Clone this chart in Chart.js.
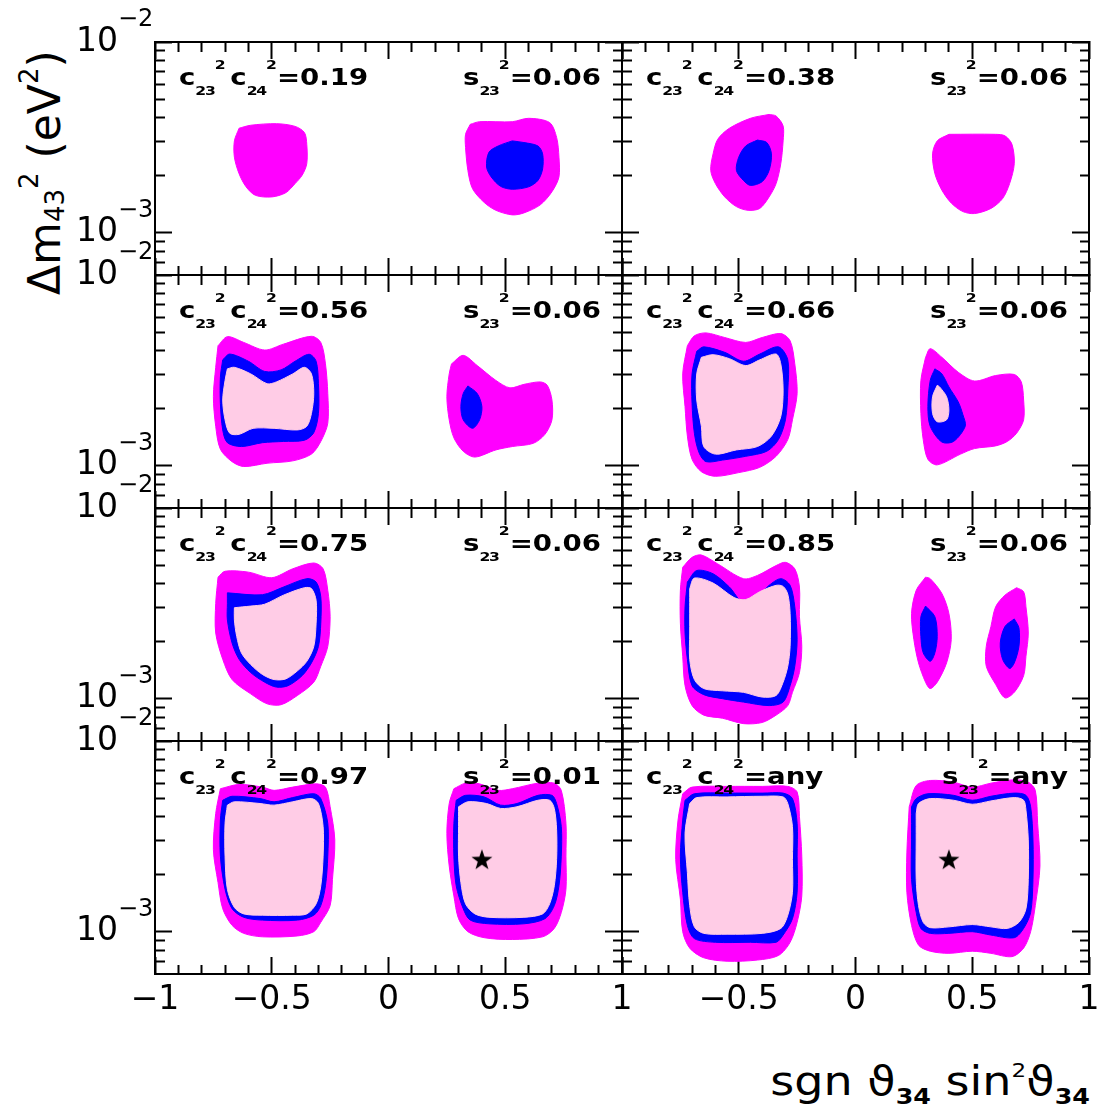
<!DOCTYPE html>
<html>
<head>
<meta charset="utf-8">
<title>Allowed regions in the sgn(theta34) sin^2(theta34) - dm43^2 plane</title>
<script src="https://cdn.jsdelivr.net/npm/chart.js@4.4.1/dist/chart.umd.min.js"></script>
<style>
  html, body { margin: 0; padding: 0; background: #fff; }
  body { width: 1099px; height: 1112px; position: relative; overflow: hidden; font-family: 'DejaVu Sans', sans-serif; color: #000; }
  canvas { position: absolute; }
  .note { position: absolute; font-size: 23px; font-weight: bold; line-height: 23px; white-space: nowrap; transform: scaleX(1.2); }
  .note.left { transform-origin: left top; }
  .note.right { transform-origin: right top; }
  .note .sb, .note .sp { font-size: 13px; position: relative; }
  .note .sb { top: 10px; letter-spacing: -1px; }
  .note .sp { top: -16px; }
  .note .gap { margin-left: 4px; }
  .xtitle { position: absolute; right: 9px; top: 1061px; font-size: 40px; line-height: 40px; white-space: nowrap;
            transform-origin: right top; transform: scaleX(1.15); }
  .xtitle .sb { font-size: 22px; font-weight: bold; position: relative; top: 9px; }
  .xtitle .sp { font-size: 20px; position: relative; top: -18px; }
  .ytitle { position: absolute; left: 23px; top: 295px; font-size: 44px; line-height: 44px; white-space: nowrap;
            transform-origin: 0 0; transform: rotate(-90deg); }
  .ytitle .sb { font-size: 26px; position: relative; top: 4px; }
  .ytitle .sp { font-size: 26px; position: relative; top: -22px; }
</style>
</head>
<body>
<div class="ytitle">&Delta;m<span class="sb">43</span><span class="sp">2</span> (eV<span class="sp">2</span>)</div>
<div class="xtitle">sgn &#977;<span class="sb">34</span> sin<span class="sp">2</span>&#977;<span class="sb">34</span></div>
<script>
// axes
const X_MIN = -1, X_MAX = 1;
const Y_MIN = 6.2e-4, Y_MAX = 1e-2;
const X_TICKS = [-1, -0.9, -0.8, -0.7, -0.6, -0.5, -0.4, -0.3, -0.2, -0.1, 0, 0.1, 0.2, 0.3, 0.4, 0.5, 0.6, 0.7, 0.8, 0.9, 1];
const X_MAJOR = [-1, -0.5, 0, 0.5, 1];
const X_LABELS = ['\u22121', '\u22120.5', '0', '0.5', '1'];
const Y_TICKS = [7e-4, 8e-4, 9e-4, 1e-3, 2e-3, 3e-3, 4e-3, 5e-3, 6e-3, 7e-3, 8e-3, 9e-3, 1e-2];
const Y_MAJOR = [1e-3, 1e-2];
const Y_BASE = ['10', '10'];
const Y_EXP = ['\u22123', '\u22122'];

// panel captions
const PANEL_C = ['0.19', '0.38', '0.56', '0.66', '0.75', '0.85', '0.97', 'any'];
const PANEL_S = ['0.06', '0.06', '0.06', '0.06', '0.06', '0.06', '0.01', 'any'];

// contour levels: outer, middle, inner
const LEVEL_COLORS = ['#ff00ff', '#0000ff', '#ffcce6'];

// contours: [sgn sin^2 theta34, dm43^2 in 1e-3 eV^2]
const P019_L_OUT = [[-0.64,3.53],[-0.59,3.66],[-0.48,3.73],[-0.40,3.61],[-0.36,3.35],[-0.35,2.91],[-0.35,2.30],[-0.37,2.00],[-0.40,1.81],[-0.44,1.62],[-0.50,1.54],[-0.57,1.57],[-0.61,1.74],[-0.64,2.04],[-0.66,2.49],[-0.66,3.03]];
const P019_R_OUT = [[0.35,3.70],[0.39,3.82],[0.53,3.82],[0.60,3.98],[0.69,3.78],[0.72,3.16],[0.73,2.49],[0.73,1.96],[0.70,1.64],[0.65,1.40],[0.58,1.27],[0.53,1.24],[0.46,1.31],[0.41,1.44],[0.36,1.70],[0.34,2.12],[0.33,2.80],[0.33,3.28]];
const P019_R_MID = [[0.53,3.03],[0.47,2.85],[0.43,2.64],[0.42,2.21],[0.44,1.96],[0.48,1.75],[0.53,1.69],[0.60,1.74],[0.64,1.88],[0.66,2.16],[0.66,2.59],[0.64,2.85],[0.58,2.97]];

const P038_L_OUT = [[-0.37,4.17],[-0.45,3.98],[-0.54,3.53],[-0.59,3.09],[-0.61,2.59],[-0.62,2.12],[-0.60,1.81],[-0.56,1.54],[-0.51,1.37],[-0.46,1.31],[-0.41,1.34],[-0.37,1.54],[-0.34,1.81],[-0.32,2.30],[-0.31,3.03],[-0.31,3.63],[-0.34,4.09]];
const P038_L_MID = [[-0.42,3.06],[-0.47,2.85],[-0.50,2.49],[-0.51,2.12],[-0.48,1.88],[-0.45,1.77],[-0.40,1.85],[-0.37,2.12],[-0.36,2.59],[-0.38,2.97]];
const P038_R_OUT = [[0.40,3.28],[0.60,3.28],[0.64,3.22],[0.67,2.91],[0.68,2.30],[0.66,1.81],[0.63,1.51],[0.58,1.34],[0.51,1.26],[0.46,1.29],[0.41,1.43],[0.37,1.67],[0.34,2.04],[0.33,2.59],[0.35,3.03]];

const P056_L_OUT = [[-0.73,4.26],[-0.69,4.75],[-0.62,4.43],[-0.53,4.04],[-0.45,4.34],[-0.33,4.77],[-0.29,4.43],[-0.27,3.42],[-0.26,2.39],[-0.26,1.67],[-0.29,1.34],[-0.33,1.15],[-0.41,1.06],[-0.52,1.03],[-0.62,0.99],[-0.67,1.05],[-0.72,1.22],[-0.74,1.61],[-0.75,2.30],[-0.74,3.28]];
const P056_L_MID = [[-0.71,3.59],[-0.68,3.85],[-0.60,3.53],[-0.53,3.12],[-0.46,3.18],[-0.40,3.53],[-0.34,3.84],[-0.31,3.53],[-0.30,2.69],[-0.30,1.88],[-0.32,1.49],[-0.36,1.36],[-0.45,1.34],[-0.54,1.32],[-0.63,1.26],[-0.69,1.32],[-0.71,1.54],[-0.72,2.12],[-0.72,2.91]];
const P056_L_IN = [[-0.69,3.22],[-0.66,3.28],[-0.59,3.03],[-0.52,2.69],[-0.48,2.75],[-0.41,3.03],[-0.36,3.28],[-0.33,3.03],[-0.32,2.39],[-0.33,1.88],[-0.35,1.61],[-0.39,1.54],[-0.49,1.57],[-0.58,1.57],[-0.64,1.46],[-0.68,1.48],[-0.70,1.74],[-0.71,2.21],[-0.70,2.80]];
const P056_R_OUT = [[0.27,3.42],[0.32,3.79],[0.38,3.35],[0.46,2.80],[0.52,2.56],[0.58,2.67],[0.65,2.75],[0.68,2.64],[0.70,2.21],[0.70,1.74],[0.67,1.46],[0.62,1.31],[0.53,1.26],[0.46,1.21],[0.37,1.11],[0.32,1.19],[0.28,1.40],[0.26,1.74],[0.25,2.30],[0.26,3.03]];
const P056_R_MID = [[0.34,2.62],[0.32,2.39],[0.31,2.04],[0.32,1.74],[0.36,1.57],[0.39,1.74],[0.40,2.04],[0.38,2.39]];

const P066_L_OUT = [[-0.72,4.26],[-0.69,4.80],[-0.64,4.97],[-0.56,4.70],[-0.47,4.43],[-0.40,4.70],[-0.32,4.93],[-0.28,4.52],[-0.26,3.42],[-0.25,2.39],[-0.27,1.74],[-0.29,1.37],[-0.34,1.12],[-0.41,0.98],[-0.50,0.92],[-0.60,0.88],[-0.66,0.93],[-0.70,1.08],[-0.72,1.43],[-0.73,2.04],[-0.74,3.03]];
const P066_L_MID = [[-0.68,3.98],[-0.65,4.20],[-0.56,3.93],[-0.48,3.53],[-0.41,3.85],[-0.33,4.20],[-0.29,3.59],[-0.29,2.49],[-0.30,1.74],[-0.33,1.37],[-0.38,1.19],[-0.47,1.12],[-0.57,1.07],[-0.64,1.05],[-0.67,1.17],[-0.69,1.48],[-0.70,2.12],[-0.70,3.03]];
const P066_L_IN = [[-0.66,3.70],[-0.61,3.82],[-0.54,3.64],[-0.47,3.35],[-0.41,3.59],[-0.34,3.85],[-0.32,3.42],[-0.31,2.49],[-0.32,1.81],[-0.36,1.43],[-0.42,1.26],[-0.51,1.21],[-0.60,1.15],[-0.65,1.26],[-0.66,1.61],[-0.68,2.21],[-0.68,3.03]];
const P066_R_OUT = [[0.30,3.70],[0.32,4.11],[0.37,3.70],[0.44,3.09],[0.51,2.78],[0.60,2.97],[0.68,3.01],[0.71,2.75],[0.72,2.21],[0.72,1.74],[0.69,1.48],[0.65,1.34],[0.60,1.27],[0.51,1.23],[0.45,1.15],[0.35,1.01],[0.31,1.08],[0.29,1.37],[0.28,1.88],[0.28,2.80]];
const P066_R_MID = [[0.34,3.22],[0.32,2.80],[0.31,2.04],[0.32,1.61],[0.37,1.33],[0.42,1.34],[0.47,1.61],[0.46,1.85],[0.44,2.16],[0.40,2.59],[0.37,3.03]];
const P066_R_IN = [[0.35,2.64],[0.33,2.30],[0.33,1.88],[0.35,1.70],[0.39,1.74],[0.40,1.96],[0.39,2.30],[0.36,2.59]];

const P075_L_OUT = [[-0.73,4.34],[-0.70,4.66],[-0.60,4.61],[-0.50,4.31],[-0.41,4.80],[-0.32,5.15],[-0.28,4.80],[-0.26,3.70],[-0.25,2.69],[-0.26,1.88],[-0.29,1.48],[-0.32,1.22],[-0.39,1.04],[-0.46,0.93],[-0.52,0.94],[-0.59,1.06],[-0.67,1.26],[-0.71,1.61],[-0.74,2.21],[-0.74,3.16]];
const P075_L_MID = [[-0.69,3.59],[-0.54,3.51],[-0.45,3.85],[-0.35,4.26],[-0.31,4.09],[-0.29,3.42],[-0.29,2.49],[-0.30,1.88],[-0.33,1.54],[-0.37,1.32],[-0.43,1.17],[-0.48,1.15],[-0.53,1.22],[-0.59,1.37],[-0.64,1.61],[-0.67,1.96],[-0.69,2.59],[-0.69,3.16]];
const P075_L_IN = [[-0.66,3.00],[-0.59,3.06],[-0.53,3.13],[-0.45,3.49],[-0.36,3.82],[-0.33,3.78],[-0.31,3.28],[-0.31,2.49],[-0.32,1.88],[-0.35,1.57],[-0.39,1.40],[-0.44,1.27],[-0.49,1.26],[-0.54,1.34],[-0.59,1.51],[-0.63,1.74],[-0.65,2.12],[-0.66,2.59]];

const P085_L_OUT = [[-0.74,4.89],[-0.70,5.51],[-0.66,5.67],[-0.59,5.09],[-0.48,4.26],[-0.42,4.43],[-0.34,4.99],[-0.30,5.19],[-0.26,4.80],[-0.24,3.85],[-0.24,2.69],[-0.23,1.88],[-0.24,1.37],[-0.27,1.08],[-0.29,0.92],[-0.34,0.82],[-0.40,0.75],[-0.48,0.74],[-0.57,0.79],[-0.65,0.82],[-0.70,0.92],[-0.73,1.17],[-0.74,1.67],[-0.75,2.49],[-0.75,3.70]];
const P085_L_MID = [[-0.72,4.09],[-0.68,4.70],[-0.61,4.52],[-0.54,3.85],[-0.48,3.18],[-0.42,3.42],[-0.37,3.93],[-0.32,4.26],[-0.28,3.93],[-0.26,3.03],[-0.25,2.04],[-0.26,1.48],[-0.28,1.17],[-0.31,0.96],[-0.37,0.92],[-0.48,0.96],[-0.57,1.00],[-0.65,1.05],[-0.70,1.17],[-0.72,1.61],[-0.73,2.21],[-0.73,3.03]];
const P085_L_IN = [[-0.71,3.78],[-0.69,4.29],[-0.61,4.04],[-0.52,3.39],[-0.47,3.31],[-0.41,3.64],[-0.34,3.93],[-0.31,3.88],[-0.29,3.53],[-0.28,2.80],[-0.28,1.88],[-0.29,1.48],[-0.31,1.22],[-0.34,1.04],[-0.40,1.02],[-0.48,1.08],[-0.57,1.10],[-0.65,1.13],[-0.69,1.26],[-0.71,1.61],[-0.71,2.21],[-0.71,3.03]];
const P085_M_OUT = [[0.30,4.34],[0.26,3.70],[0.24,2.80],[0.25,2.04],[0.27,1.54],[0.30,1.22],[0.32,1.13],[0.35,1.22],[0.39,1.54],[0.41,2.04],[0.40,2.80],[0.37,3.56],[0.32,4.26]];
const P085_M_MID = [[0.30,3.06],[0.28,2.69],[0.28,2.12],[0.29,1.74],[0.32,1.57],[0.34,1.74],[0.35,2.12],[0.34,2.69]];
const P085_R_OUT = [[0.69,3.82],[0.64,3.49],[0.60,3.03],[0.58,2.39],[0.56,1.88],[0.56,1.48],[0.60,1.19],[0.64,1.01],[0.68,1.08],[0.72,1.32],[0.73,1.67],[0.74,2.21],[0.73,3.03],[0.72,3.64]];
const P085_R_MID = [[0.68,2.62],[0.64,2.39],[0.62,1.96],[0.63,1.61],[0.66,1.44],[0.68,1.54],[0.70,1.88],[0.70,2.35]];

const P097_L_OUT = [[-0.72,5.62],[-0.64,5.92],[-0.54,5.73],[-0.49,5.51],[-0.41,5.73],[-0.31,5.96],[-0.27,5.73],[-0.25,4.52],[-0.23,3.03],[-0.24,1.88],[-0.25,1.37],[-0.29,1.12],[-0.32,1.00],[-0.39,0.95],[-0.54,0.94],[-0.62,0.98],[-0.67,1.08],[-0.71,1.32],[-0.73,1.81],[-0.75,2.69],[-0.74,4.17]];
const P097_L_MID = [[-0.71,4.89],[-0.67,5.13],[-0.55,4.99],[-0.49,4.80],[-0.41,5.05],[-0.32,5.29],[-0.29,4.99],[-0.26,3.70],[-0.26,2.49],[-0.27,1.74],[-0.29,1.37],[-0.32,1.22],[-0.39,1.15],[-0.54,1.15],[-0.62,1.19],[-0.67,1.32],[-0.70,1.67],[-0.72,2.49],[-0.72,3.85]];
const P097_L_IN = [[-0.69,4.61],[-0.66,4.80],[-0.55,4.70],[-0.49,4.61],[-0.41,4.80],[-0.33,4.99],[-0.30,4.70],[-0.28,3.56],[-0.28,2.49],[-0.29,1.74],[-0.31,1.40],[-0.35,1.24],[-0.41,1.22],[-0.54,1.22],[-0.62,1.24],[-0.66,1.34],[-0.69,1.67],[-0.70,2.49],[-0.70,3.70]];
const P097_R_OUT = [[0.28,5.62],[0.33,6.01],[0.39,5.96],[0.47,5.51],[0.53,5.62],[0.64,6.01],[0.71,6.01],[0.74,5.51],[0.76,3.70],[0.76,2.49],[0.76,1.67],[0.74,1.26],[0.71,1.04],[0.66,0.94],[0.53,0.91],[0.41,0.93],[0.34,1.00],[0.30,1.17],[0.28,1.54],[0.26,2.21],[0.25,3.28],[0.26,4.70]];
const P097_R_MID = [[0.29,4.89],[0.33,5.19],[0.41,5.09],[0.48,4.61],[0.55,4.70],[0.64,5.19],[0.70,5.19],[0.72,4.70],[0.74,3.56],[0.74,2.49],[0.73,1.74],[0.71,1.37],[0.67,1.17],[0.58,1.10],[0.43,1.10],[0.35,1.15],[0.32,1.32],[0.29,1.74],[0.28,2.49],[0.28,3.70]];
const P097_R_IN = [[0.30,4.52],[0.34,4.80],[0.42,4.70],[0.48,4.43],[0.55,4.52],[0.64,4.89],[0.69,4.89],[0.71,4.43],[0.72,3.42],[0.72,2.39],[0.71,1.74],[0.69,1.40],[0.66,1.24],[0.58,1.19],[0.43,1.19],[0.37,1.24],[0.33,1.40],[0.31,1.81],[0.30,2.49],[0.30,3.56]];

const PANY_L_OUT = [[-0.74,5.29],[-0.70,5.73],[-0.55,5.78],[-0.40,5.78],[-0.29,5.78],[-0.25,5.40],[-0.24,4.01],[-0.23,2.49],[-0.23,1.54],[-0.25,1.12],[-0.28,0.88],[-0.33,0.75],[-0.42,0.71],[-0.55,0.70],[-0.65,0.73],[-0.71,0.82],[-0.74,1.00],[-0.75,1.48],[-0.77,2.39],[-0.76,3.85]];
const PANY_L_MID = [[-0.73,4.89],[-0.69,5.29],[-0.55,5.33],[-0.40,5.33],[-0.31,5.33],[-0.27,4.99],[-0.25,3.70],[-0.25,2.49],[-0.25,1.61],[-0.27,1.17],[-0.31,0.96],[-0.34,0.88],[-0.45,0.88],[-0.60,0.88],[-0.69,0.92],[-0.72,1.08],[-0.74,1.61],[-0.75,2.49],[-0.74,3.85]];
const PANY_L_IN = [[-0.71,4.70],[-0.68,5.05],[-0.55,5.09],[-0.40,5.13],[-0.31,5.09],[-0.29,4.70],[-0.27,3.56],[-0.27,2.39],[-0.27,1.61],[-0.29,1.22],[-0.32,1.04],[-0.40,0.98],[-0.55,0.97],[-0.65,0.98],[-0.69,1.06],[-0.71,1.37],[-0.72,2.04],[-0.73,3.28]];
const PANY_R_OUT = [[0.23,4.52],[0.26,5.84],[0.32,6.21],[0.42,6.08],[0.50,5.73],[0.58,6.01],[0.68,6.26],[0.74,6.08],[0.77,5.51],[0.78,3.70],[0.79,2.21],[0.77,1.37],[0.75,1.00],[0.72,0.82],[0.67,0.74],[0.58,0.77],[0.50,0.79],[0.40,0.77],[0.32,0.79],[0.27,0.85],[0.24,1.08],[0.22,1.61],[0.22,2.59]];
const PANY_R_MID = [[0.24,4.52],[0.26,4.99],[0.31,5.29],[0.42,5.19],[0.50,4.89],[0.58,5.13],[0.68,5.33],[0.73,5.19],[0.75,4.52],[0.76,3.03],[0.76,1.88],[0.75,1.26],[0.72,1.04],[0.68,0.93],[0.58,0.96],[0.50,1.00],[0.40,0.98],[0.32,0.98],[0.28,1.04],[0.26,1.26],[0.24,1.88],[0.24,3.03]];
const PANY_R_IN = [[0.26,4.17],[0.27,4.70],[0.32,4.99],[0.42,4.89],[0.50,4.66],[0.58,4.85],[0.68,5.05],[0.72,4.89],[0.73,4.34],[0.74,3.03],[0.74,1.88],[0.73,1.32],[0.70,1.12],[0.65,1.04],[0.58,1.06],[0.50,1.09],[0.40,1.06],[0.32,1.05],[0.29,1.12],[0.27,1.37],[0.26,1.88],[0.26,3.03]];

// best fit points
const STAR_PANEL = [6, 7];
const STAR_X = [0.40, 0.40];
const STAR_Y = [2.4, 2.4];

const Y_UNIT = 1e-3;

const PANEL_ISLANDS = [
  [[P019_L_OUT], [P019_R_OUT, P019_R_MID]],
  [[P038_L_OUT, P038_L_MID], [P038_R_OUT]],
  [[P056_L_OUT, P056_L_MID, P056_L_IN], [P056_R_OUT, P056_R_MID]],
  [[P066_L_OUT, P066_L_MID, P066_L_IN], [P066_R_OUT, P066_R_MID, P066_R_IN]],
  [[P075_L_OUT, P075_L_MID, P075_L_IN]],
  [[P085_L_OUT, P085_L_MID, P085_L_IN], [P085_M_OUT, P085_M_MID], [P085_R_OUT, P085_R_MID]],
  [[P097_L_OUT, P097_L_MID, P097_L_IN], [P097_R_OUT, P097_R_MID, P097_R_IN]],
  [[PANY_L_OUT, PANY_L_MID, PANY_L_IN], [PANY_R_OUT, PANY_R_MID, PANY_R_IN]]
];

// page layout of the plot frames
const COL_LEFT = [155, 622];
const ROW_TOP = [42, 275, 508, 741];
const PW = 467, PH = 233;

Chart.defaults.font.family = 'DejaVu Sans';

function starMarker(size) {
  const c = document.createElement('canvas');
  c.width = c.height = size;
  const g = c.getContext('2d');
  g.fillStyle = '#000';
  g.beginPath();
  for (let i = 0; i < 10; i++) {
    const r = (i % 2 ? 0.2 : 0.5) * size;
    const a = -Math.PI / 2 + i * Math.PI / 5;
    g.lineTo(size / 2 + r * Math.cos(a), size * 0.55 + r * Math.sin(a));
  }
  g.closePath();
  g.fill();
  return c;
}
const STAR_IMG = starMarker(22);

function toPoints(poly) {
  const d = poly.map(p => ({ x: p[0], y: p[1] * Y_UNIT }));
  d.push(d[0]);
  return d;
}

const xLabel = hideFirst => v => {
  const k = X_MAJOR.indexOf(v);
  return k < 0 || (hideFirst && k === 0) ? '' : X_LABELS[k];
};
const yLabel = list => v => {
  const k = Y_MAJOR.indexOf(v);
  return k < 0 ? '' : list[k];
};

const zeroPad = s => { s.paddingLeft = s.paddingRight = s.paddingTop = s.paddingBottom = 0; };

// ROOT style frame axis: ticks drawn inward, longer ticks at the major values
function frameAxis(pos, size, labelFn) {
  const horiz = pos === 'top' || pos === 'bottom';
  const values = horiz ? X_TICKS : Y_TICKS;
  const majors = horiz ? X_MAJOR : Y_MAJOR;
  const fromBorder = pos === 'bottom' || pos === 'right';
  return {
    type: horiz ? 'linear' : 'logarithmic',
    position: pos,
    weight: 1,
    min: horiz ? X_MIN : Y_MIN,
    max: horiz ? X_MAX : Y_MAX,
    afterBuildTicks: s => { s.ticks = values.map(v => ({ value: v })); },
    afterFit: s => {
      if (horiz) s.height = size; else s.width = size;
      zeroPad(s);
    },
    grid: {
      drawOnChartArea: false,
      tickLength: -17,
      tickWidth: 2,
      tickColor: '#000',
      tickBorderDash: c => (!c.tick || majors.indexOf(c.tick.value) >= 0) ? [] : (fromBorder ? [10, 100] : [0, 7, 10, 100])
    },
    border: { display: true, color: '#000', width: 2 },
    ticks: {
      display: !!labelFn,
      autoSkip: false,
      maxRotation: 0,
      minRotation: 0,
      padding: horiz ? 24 : 54,
      color: '#000',
      font: { family: 'DejaVu Sans', size: 33 },
      callback: v => labelFn ? labelFn(v) : ''
    }
  };
}

// zero-width axis at the frame that carries the raised exponents of the y labels
// (mirrored so its labels are not clipped to its empty box, then pulled back left of the frame)
function exponentAxis() {
  return {
    type: 'logarithmic',
    position: 'left',
    weight: 0,
    min: Y_MIN,
    max: Y_MAX,
    afterBuildTicks: s => { s.ticks = Y_MAJOR.map(v => ({ value: v })); },
    afterFit: s => { s.width = 0; zeroPad(s); },
    grid: { display: false, drawTicks: false },
    border: { display: false },
    ticks: {
      autoSkip: false,
      mirror: true,
      padding: -37,
      labelOffset: -22,
      color: '#000',
      font: { family: 'DejaVu Sans', size: 24 },
      callback: yLabel(Y_EXP)
    }
  };
}

function addNote(html, cls, css) {
  const d = document.createElement('div');
  d.className = 'note ' + cls;
  d.innerHTML = html;
  Object.assign(d.style, css);
  document.body.appendChild(d);
}

PANEL_ISLANDS.forEach((islands, i) => {
  const col = i % 2, row = Math.floor(i / 2);
  const mL = col ? 12 : 150, mR = 14, mT = 36, mB = row === 3 ? 62 : 24;
  const cv = document.createElement('canvas');
  cv.width = PW + mL + mR;
  cv.height = PH + mT + mB;
  cv.style.left = (COL_LEFT[col] - mL) + 'px';
  cv.style.top = (ROW_TOP[row] - mT) + 'px';
  document.body.appendChild(cv);

  const datasets = [];
  islands.forEach(levels => levels.forEach((poly, lev) => {
    datasets.push({
      data: toPoints(poly),
      xAxisID: 'x',
      yAxisID: 'y',
      fill: 'shape',
      backgroundColor: LEVEL_COLORS[lev],
      borderColor: LEVEL_COLORS[lev],
      borderWidth: 1,
      pointRadius: 0,
      tension: 0.3,
      order: -lev
    });
  }));
  const s = STAR_PANEL.indexOf(i);
  if (s >= 0) {
    datasets.push({
      data: [{ x: STAR_X[s], y: STAR_Y[s] * Y_UNIT }],
      xAxisID: 'x',
      yAxisID: 'y',
      showLine: false,
      fill: false,
      pointStyle: STAR_IMG,
      pointRadius: 11,
      order: -10
    });
  }

  const scales = {
    x: frameAxis('bottom', mB, row === 3 ? xLabel(col === 1) : null),
    x2: frameAxis('top', mT, null),
    y: frameAxis('left', mL, col === 0 ? yLabel(Y_BASE) : null),
    y2: frameAxis('right', mR, null)
  };
  if (col === 0) scales.yExp = exponentAxis();

  new Chart(cv, {
    type: 'line',
    data: { datasets },
    options: {
      responsive: false,
      animation: false,
      devicePixelRatio: 1,
      events: [],
      layout: { padding: 0 },
      plugins: { legend: { display: false }, tooltip: { enabled: false } },
      scales
    }
  });

  const top = (ROW_TOP[row] + 24) + 'px';
  addNote('c<span class="sb">23</span><span class="sp">2</span><span class="gap">c</span><span class="sb">24</span><span class="sp">2</span>=' + PANEL_C[i],
    'left', { left: (COL_LEFT[col] + 24) + 'px', top });
  addNote('s<span class="sb">23</span><span class="sp">2</span>=' + PANEL_S[i],
    'right', { right: (1099 - (COL_LEFT[col] + 446)) + 'px', top });
});
</script>
</body>
</html>
